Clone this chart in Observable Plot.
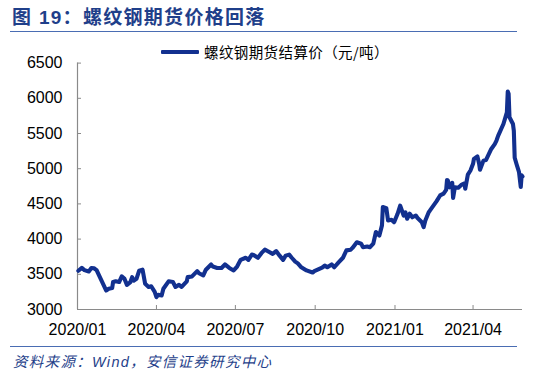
<!DOCTYPE html>
<html><head><meta charset="utf-8">
<script src="https://cdn.jsdelivr.net/npm/d3@7"></script>
<script src="https://cdn.jsdelivr.net/npm/@observablehq/plot@0.6"></script>
<style>
body{margin:0;background:#fff;}
#wrap{position:relative;width:550px;height:375px;overflow:hidden;background:#fff;}
#title{position:absolute;left:12px;top:2px;font-family:"Liberation Sans","Noto Sans CJK SC",sans-serif;font-weight:bold;font-size:19px;letter-spacing:1.3px;color:#1f3f8a;white-space:nowrap;}
.hr{position:absolute;left:10px;width:507px;height:0;border-top:1.5px solid #4a6db3;}
#legend{position:absolute;left:161px;top:41px;font-family:"Noto Sans CJK SC",sans-serif;font-size:14.5px;letter-spacing:0.4px;color:#000;white-space:nowrap;display:flex;align-items:center;}
#legend .sw{display:inline-block;width:38px;height:4px;background:#12308f;margin-right:5px;border-radius:1px;}
#source{position:absolute;left:13px;top:350px;font-family:"Liberation Sans","Noto Sans CJK SC",sans-serif;font-style:italic;font-size:14.5px;letter-spacing:1.3px;color:#1f3f8a;white-space:nowrap;}
#chart{position:absolute;left:0;top:40px;}
</style>
</head><body>
<div id="wrap">
  <div id="title">图 19：螺纹钢期货价格回落</div>
  <div class="hr" style="top:31px"></div>
  <div id="chart"></div>
  <div id="legend"><span class="sw"></span><span>螺纹钢期货结算价（元/吨）</span></div>
  <div class="hr" style="top:346px"></div>
  <div id="source">资料来源：Wind，安信证券研究中心</div>
</div>
<script>
const seriesName = "螺纹钢期货结算价（元/吨）";
const dates = ["2020-01-02","2020-01-06","2020-01-09","2020-01-14","2020-01-17","2020-01-20","2020-01-23","2020-02-03","2020-02-06","2020-02-10","2020-02-11","2020-02-14","2020-02-18","2020-02-21","2020-02-24","2020-02-27","2020-03-02","2020-03-04","2020-03-06","2020-03-09","2020-03-12","2020-03-16","2020-03-19","2020-03-23","2020-03-26","2020-03-30","2020-04-01","2020-04-03","2020-04-07","2020-04-09","2020-04-15","2020-04-20","2020-04-23","2020-04-27","2020-04-30","2020-05-06","2020-05-07","2020-05-12","2020-05-18","2020-05-20","2020-05-25","2020-05-28","2020-06-03","2020-06-05","2020-06-10","2020-06-15","2020-06-19","2020-06-24","2020-06-29","2020-07-03","2020-07-07","2020-07-13","2020-07-16","2020-07-20","2020-07-22","2020-07-27","2020-07-31","2020-08-04","2020-08-07","2020-08-13","2020-08-17","2020-08-21","2020-08-25","2020-08-28","2020-09-01","2020-09-04","2020-09-08","2020-09-11","2020-09-15","2020-09-21","2020-09-28","2020-09-30","2020-10-09","2020-10-12","2020-10-15","2020-10-20","2020-10-23","2020-10-28","2020-11-02","2020-11-06","2020-11-11","2020-11-13","2020-11-18","2020-11-23","2020-11-25","2020-11-30","2020-12-03","2020-12-07","2020-12-10","2020-12-14","2020-12-17","2020-12-18","2020-12-22","2020-12-24","2020-12-28","2020-12-31","2021-01-04","2021-01-07","2021-01-11","2021-01-13","2021-01-15","2021-01-18","2021-01-21","2021-01-25","2021-01-27","2021-02-01","2021-02-03","2021-02-05","2021-02-09","2021-02-10","2021-02-18","2021-02-22","2021-02-26","2021-03-01","2021-03-02","2021-03-03","2021-03-05","2021-03-08","2021-03-09","2021-03-11","2021-03-15","2021-03-19","2021-03-22","2021-03-23","2021-03-26","2021-03-29","2021-04-01","2021-04-02","2021-04-06","2021-04-08","2021-04-09","2021-04-13","2021-04-16","2021-04-22","2021-04-26","2021-04-28","2021-04-30","2021-05-06","2021-05-10","2021-05-11","2021-05-12","2021-05-13","2021-05-17","2021-05-18","2021-05-19","2021-05-21","2021-05-24","2021-05-26","2021-05-27","2021-05-28"];
const prices = [3550,3590,3560,3540,3590,3585,3560,3270,3295,3305,3390,3400,3390,3470,3440,3350,3390,3460,3410,3435,3550,3565,3365,3320,3330,3250,3175,3210,3200,3295,3400,3390,3320,3350,3320,3400,3460,3470,3545,3515,3485,3565,3640,3610,3590,3590,3640,3590,3555,3610,3705,3735,3705,3780,3775,3735,3800,3850,3830,3790,3830,3765,3705,3765,3780,3735,3680,3655,3600,3555,3525,3545,3595,3625,3600,3640,3600,3670,3735,3840,3850,3875,3955,3935,3885,3895,3885,3935,4100,4050,4195,4455,4440,4265,4275,4240,4360,4475,4335,4380,4290,4360,4310,4335,4300,4240,4170,4265,4385,4400,4540,4620,4645,4700,4840,4830,4735,4800,4585,4735,4730,4775,4790,4715,4915,4975,5070,5140,5175,5070,4985,5115,5125,5280,5350,5400,5470,5635,5800,6095,6065,5730,5635,5540,5155,5070,4950,4740,4905,4890];
const xTickLabels = ["2020-01-01","2020-04-01","2020-07-01","2020-10-01","2021-01-01","2021-04-01"];
const yTicks = [3000,3500,4000,4500,5000,5500,6000,6500];
const xDomain = ["2020-01-01","2021-05-28"];

const data = dates.map((d,i)=>({date:new Date(d+"T00:00:00Z"), value:prices[i]}));
const xTicks = xTickLabels.map(d=>new Date(d+"T00:00:00Z"));
const xd = xDomain.map(d=>new Date(d+"T00:00:00Z"));
const axisColor = "#8a8a8a";

const chart = Plot.plot({
  width:550, height:300,
  marginLeft:77, marginRight:28, marginTop:22.6, marginBottom:31,
  x:{type:"utc", domain:xd, label:null},
  y:{domain:[yTicks[0], yTicks[yTicks.length-1]], label:null},
  style:{fontFamily:"'Liberation Sans', Arial, sans-serif", fontSize:"16px", color:"#000", background:"transparent", overflow:"visible"},
  marks:[
    Plot.ruleX([xd[0]], {stroke:axisColor, strokeWidth:1.2}),
    Plot.ruleY([yTicks[0]], {stroke:axisColor, strokeWidth:1.2}),
    Plot.axisY(yTicks, {tickSize:4, dx:4, text:null, stroke:axisColor, label:null}),
    Plot.axisY(yTicks, {tickSize:0, tickPadding:15, fill:"#000", fontSize:16, tickFormat:d=>String(d), label:null}),
    Plot.axisX(xTicks, {tickSize:4, dy:-4, text:null, stroke:axisColor, label:null}),
    Plot.axisX(xTicks, {tickSize:0, tickPadding:14, fill:"#000", fontSize:16, tickFormat:d3.utcFormat("%Y/%m"), label:null}),
    Plot.line(data, {x:"date", y:"value", stroke:"#12308f", strokeWidth:4.1, strokeLinejoin:"round", strokeLinecap:"round", title:()=>seriesName})
  ]
});
document.getElementById("chart").appendChild(chart);
</script>
</body></html>
